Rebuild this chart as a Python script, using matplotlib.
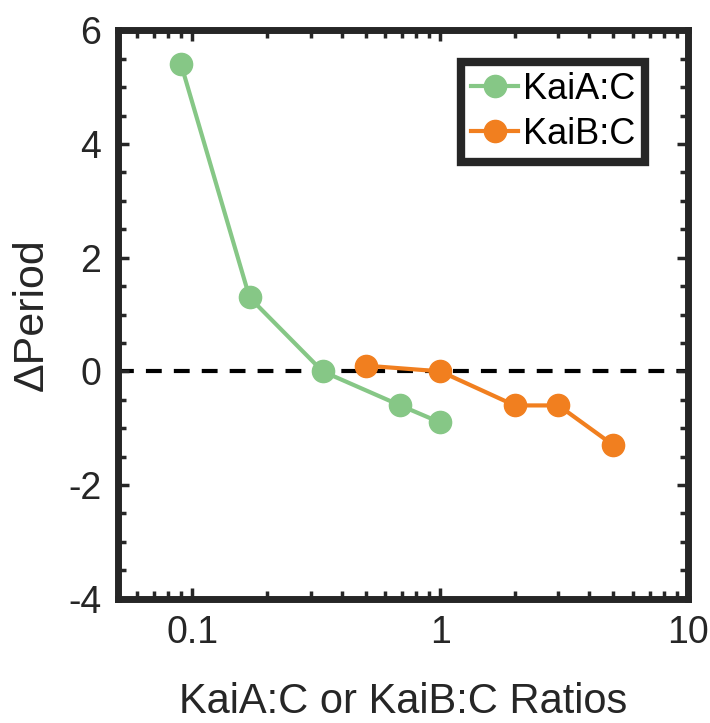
import matplotlib
matplotlib.use("Agg")
import matplotlib.pyplot as plt
from matplotlib.ticker import FixedLocator, MultipleLocator, LogLocator, NullFormatter, FixedFormatter

plt.rcParams['font.family'] = ['Liberation Sans', 'DejaVu Sans']
plt.rcParams['axes.unicode_minus'] = False

# data
kaia_ratio = [0.09, 0.17, 0.335, 0.69, 1.0]
kaia_dperiod = [5.4, 1.3, 0.0, -0.6, -0.9]
kaib_ratio = [0.5, 1.0, 2.0, 3.0, 5.0]
kaib_dperiod = [0.1, 0.0, -0.6, -0.6, -1.3]

x_ticks = [0.1, 1, 10]
x_tick_labels = ['0.1', '1', '10']
y_ticks = [-4, -2, 0, 2, 4, 6]

green = '#86C786'
orange = '#F17F1F'
dark = '#262626'

fig = plt.figure(figsize=(7.1, 7.23), dpi=100)
ax = fig.add_axes([0.166, 0.172, 0.803, 0.786])

ax.axhline(0, color='black', lw=3, dashes=(3.8, 2.9), zorder=1)
ax.plot(kaia_ratio, kaia_dperiod, '-o', color=green, lw=3, ms=16, label='KaiA:C', zorder=3)
ax.plot(kaib_ratio, kaib_dperiod, '-o', color=orange, lw=3, ms=16, label='KaiB:C', zorder=3)

ax.set_xscale('log')
ax.set_xlim(0.05, 10)
ax.set_ylim(-4, 6)

ax.xaxis.set_major_locator(FixedLocator(x_ticks))
ax.xaxis.set_major_formatter(FixedFormatter(x_tick_labels))
ax.xaxis.set_minor_locator(LogLocator(base=10, subs=range(2, 10)))
ax.xaxis.set_minor_formatter(NullFormatter())
ax.yaxis.set_major_locator(FixedLocator(y_ticks))
ax.yaxis.set_minor_locator(MultipleLocator(0.5))

for s in ax.spines.values():
    s.set_linewidth(5)
    s.set_color(dark)

ax.tick_params(which='both', direction='in', top=True, right=True,
               color=dark, labelcolor=dark, labelsize=27, width=2.5)
ax.tick_params(which='major', length=8, pad=12)
ax.tick_params(which='minor', length=5.5)

ax.set_xlabel('KaiA:C or KaiB:C Ratios', fontsize=30, color=dark, labelpad=22)
ax.set_ylabel('ΔPeriod', fontsize=31, color=dark, labelpad=12)

leg = ax.legend(loc='upper right', bbox_to_anchor=(0.925, 0.945), borderaxespad=0,
                fontsize=26, frameon=True, fancybox=False, framealpha=1,
                handlelength=1.3, handletextpad=0.12, labelspacing=0.28,
                borderpad=0.28)
leg.get_frame().set_edgecolor(dark)
leg.get_frame().set_linewidth(6)

fig.savefig('out.png', dpi=100)
